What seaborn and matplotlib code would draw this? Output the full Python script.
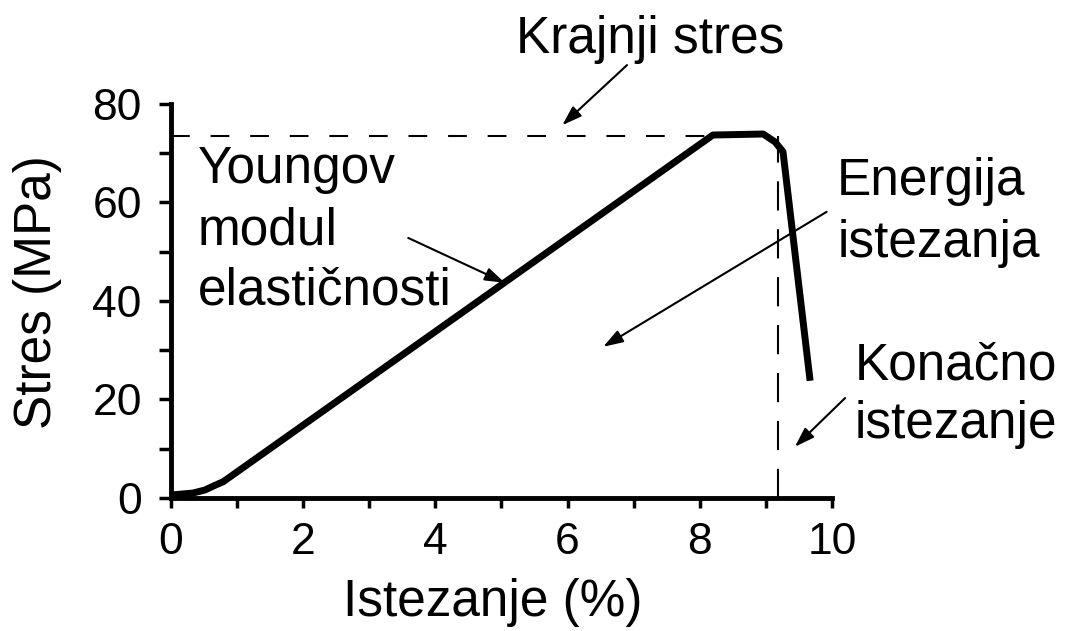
import pandas as pd
import matplotlib
matplotlib.use('Agg')
import matplotlib.pyplot as plt
import seaborn as sns

# Krivulja stres-istezanje (vrijednosti ocitane sa slike)
istezanje = [0.0, 0.33, 0.51, 0.67, 0.79, 8.20, 8.96, 9.14, 9.26, 9.67]
stres = [0.6, 1.0, 1.6, 2.6, 3.3, 73.7, 73.9, 72.3, 70.3, 23.8]

krajnji_stres = 73.5
konacno_istezanje = 9.18

x_ticks = [0, 2, 4, 6, 8, 10]
x_minor = [1, 3, 5, 7, 9]
y_ticks = [0, 20, 40, 60, 80]
y_minor = [10, 30, 50, 70]

data = pd.DataFrame({'Istezanje': istezanje, 'Stres': stres})

sns.set_style('ticks', {'axes.edgecolor': 'black', 'text.color': 'black',
                        'axes.labelcolor': 'black', 'xtick.color': 'black',
                        'ytick.color': 'black'})
plt.rcParams['font.family'] = ['Liberation Sans', 'DejaVu Sans']

fig = plt.figure(figsize=(10.66, 6.31), dpi=100)
ax = fig.add_axes([0.1604, 0.2108, 0.620, 0.6244])

sns.lineplot(data=data, x='Istezanje', y='Stres', ax=ax, color='black', lw=5,
             sort=False, estimator=None, solid_joinstyle='round',
             solid_capstyle='butt', clip_on=False)

# isprekidane linije
ax.plot([0, istezanje[5]], [krajnji_stres, krajnji_stres], color='black',
        lw=1.5, dashes=(9, 10), clip_on=False)
ax.plot([konacno_istezanje, konacno_istezanje], [0, krajnji_stres], color='black',
        lw=1.5, dashes=(14, 9), clip_on=False)

ax.set_xlim(0, 10)
ax.set_ylim(0, 80)
sns.despine(ax=ax)
for s in ['left', 'bottom']:
    ax.spines[s].set_linewidth(3.5)
    ax.spines[s].set_color('black')
ax.spines['left'].set_bounds(0, 80)
ax.spines['bottom'].set_bounds(0, 10)

ax.set_xticks(x_ticks)
ax.set_xticks(x_minor, minor=True)
ax.set_yticks(y_ticks)
ax.set_yticks(y_minor, minor=True)
ax.set_xticklabels([str(t) for t in x_ticks])
ax.set_yticklabels([str(t) for t in y_ticks])
ax.tick_params(axis='x', which='both', length=7, width=2.5, pad=10,
               labelsize=32, colors='black')
ax.tick_params(axis='y', which='both', length=9, width=2.5, pad=12,
               labelsize=32, colors='black')

ax.set_xlabel('Istezanje (%)', fontsize=37, color='black')
ax.xaxis.set_label_coords(0.486, -0.203)
ax.set_ylabel('Stres (MPa)', fontsize=37, color='black')
ax.yaxis.set_label_coords(-0.165, 0.523)

strelica = dict(arrowstyle='-|>,head_length=0.6,head_width=0.2', lw=1.5,
                color='black', mutation_scale=20, shrinkA=0, shrinkB=0)


def natpis(tekst, x, y, pocetak, vrh):
    for red, yy in zip(tekst, y):
        ax.text(x, yy, red, fontsize=37, va='baseline', ha='left',
                color='black', clip_on=False)
    ax.annotate('', xy=vrh, xytext=pocetak, arrowprops=strelica,
                annotation_clip=False)


ax.text(7.25, 90.4, 'Krajnji stres', fontsize=37, va='baseline', ha='center',
        color='black', clip_on=False)
ax.annotate('', xy=(5.92, 75.7), xytext=(6.90, 87.9), arrowprops=strelica,
            annotation_clip=False)

natpis(['Youngov', 'modul', 'elastičnosti'], 0.41, [64.0, 51.4, 39.2],
       (3.59, 52.8), (5.05, 43.7))
natpis(['Energija', 'istezanja'], 10.08, [61.5, 48.9],
       (9.92, 58.1), (6.54, 30.7))
natpis(['Konačno', 'istezanje'], 10.35, [24.0, 12.2],
       (10.2, 20.3), (9.44, 10.4))

fig.savefig('out.png', dpi=100)
